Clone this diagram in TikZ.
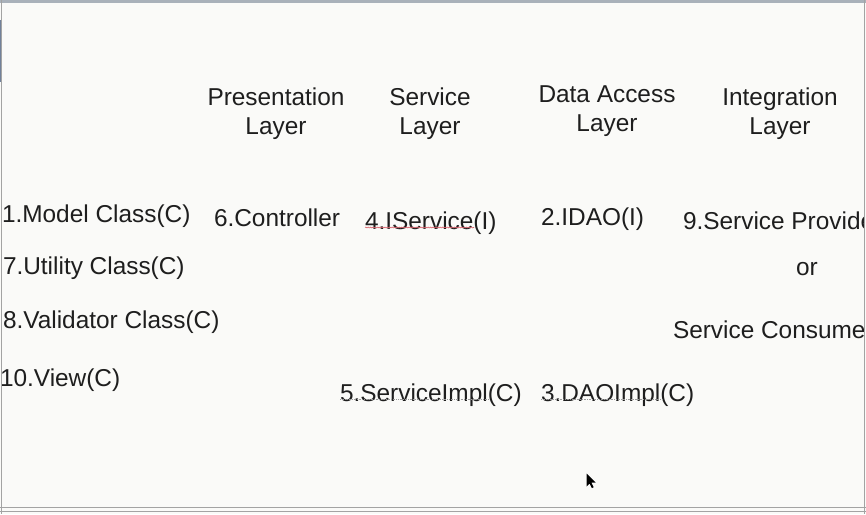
\documentclass[tikz,border=0pt]{standalone}
\usepackage{fontspec}
\setmainfont{Liberation Sans}
\usetikzlibrary{decorations.pathmorphing}
\definecolor{slidebg}{HTML}{FAFAF8}
\definecolor{framegray}{HTML}{A3A3A3}
\definecolor{topbar}{HTML}{A9B1BA}
\definecolor{sidestrip}{HTML}{71819A}
\definecolor{inktext}{HTML}{1E1E1E}
\definecolor{spellred}{HTML}{D9646E}
\tikzset{
  lbl/.style={inner sep=0pt, outer sep=0pt, text=inktext, font=\fontsize{24.4}{29}\selectfont},
  item/.style={lbl, anchor=base west},
  head/.style={lbl, align=center, anchor=base},
  dotline/.style={draw=gray!80, line width=0.8pt, dash pattern=on 0.8pt off 0.9pt},
  wavyline/.style={draw=spellred, line width=0.6pt, decorate,
    decoration={snake, amplitude=0.45pt, segment length=2.4pt}},
}
\begin{document}
\begin{tikzpicture}[x=1pt, y=-1pt]
  \useasboundingbox (0,0) rectangle (866,514);
  \fill[slidebg] (0,0) rectangle (866,514);

  \begin{scope}
    \clip (1.5,0) rectangle (863.5,507);

    % column headings (placed by the baseline of their second line)
    \node[head] (hpres) at (276,134) {Presentation\\Layer};
    \node[head] (hserv) at (430,134) {Service\\Layer};
    \node[head] (hdao)  at (607,131) {Data Access\\Layer};
    \node[head] (hint)  at (780,134) {Integration\\Layer};

    % left column
    \node[item] (model) at (2,222)   {1.Model Class(C)};
    \node[item] (util)  at (3,274)   {7.Utility Class(C)};
    \node[item] (valid) at (3,328)   {8.Validator Class(C)};
    \node[item] (view)  at (0,386)   {10.View(C)};

    % layer entries
    \node[item] (ctrl)  at (214,226) {6.Controller};
    \node[item] (isvc)  at (365,229) {4.IService(I)};
    \node[item] (idao)  at (541,225) {2.IDAO(I)};
    \node[item] (simpl) at (340,401) {5.ServiceImpl(C)};
    \node[item] (dimpl) at (541,401) {3.DAOImpl(C)};

    % integration entries
    \node[item] (prov)  at (683,229) {9.Service Provider};
    \node[lbl, anchor=base] (or) at (807,275) {or};
    \node[item] (cons)  at (673,338) {Service Consumer};

    % underlines
    \draw[wavyline] ([yshift=1.5pt]isvc.base west) -- ++(109,0);
    \draw[dotline] ([yshift=1.8pt]simpl.base west) -- ++(148,0);
    \draw[dotline] ([yshift=1.8pt]dimpl.base west) -- ++(122,0);
  \end{scope}

  % mouse pointer
  \coordinate (tip) at (586.5,473.5);
  \draw[white, line width=1.4pt, line join=round, fill=black]
    (tip) -- ++(0,13) -- ++(3,-3) -- ++(2.4,4.6) -- ++(1.8,-0.9)
    -- ++(-2.3,-4.5) -- ++(4.3,0) -- cycle;
  \fill[black]
    (tip) -- ++(0,13) -- ++(3,-3) -- ++(2.4,4.6) -- ++(1.8,-0.9)
    -- ++(-2.3,-4.5) -- ++(4.3,0) -- cycle;

  % window frame
  \fill[topbar] (0,0) rectangle (866,2.5);
  \fill[framegray] (0.6,0) rectangle (1.8,514);
  \fill[sidestrip] (0,20) rectangle (0.8,82);
  \fill[framegray] (863.5,0) rectangle (865.2,514);
  \fill[framegray] (0,506.8) rectangle (866,508.2);
  \fill[framegray] (0,510.6) rectangle (866,512);
\end{tikzpicture}
\end{document}
